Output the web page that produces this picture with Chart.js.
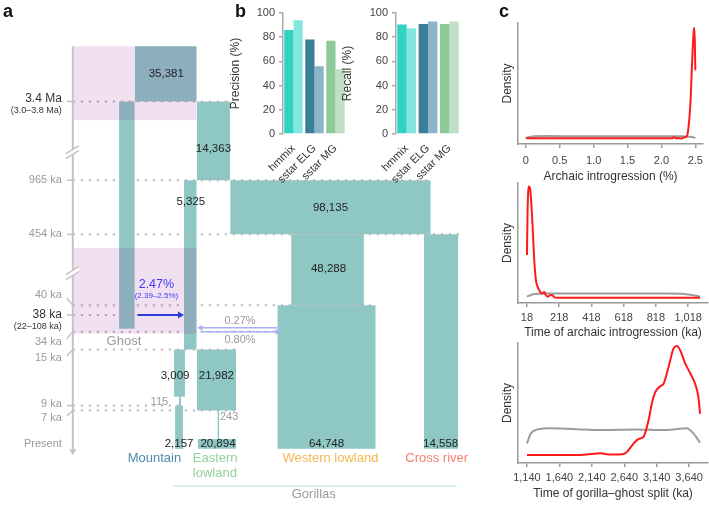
<!DOCTYPE html>
<html><head><meta charset="utf-8">
<script src="https://cdn.jsdelivr.net/npm/chart.js@4/dist/chart.umd.min.js"></script>
<style>
html,body{margin:0;padding:0;background:#fff;width:709px;height:506px;overflow:hidden;font-family:'Liberation Sans',Arial,sans-serif}
.p{position:absolute}
.lbl{position:absolute;font-weight:bold;font-size:18px;color:#111;line-height:18px}
</style></head><body>
<div class="p" style="left:0;top:0;width:480px;height:506px"><canvas id="cA" width="480" height="506"></canvas></div>
<div class="p" style="left:228px;top:0;width:120px;height:196px"><canvas id="cPrec" width="120" height="196"></canvas></div>
<div class="p" style="left:340px;top:0;width:128px;height:196px"><canvas id="cRec" width="128" height="196"></canvas></div>
<div class="p" style="left:500px;top:12px;width:209px;height:172px"><canvas id="c1" width="209" height="172"></canvas></div>
<div class="p" style="left:500px;top:172px;width:209px;height:168px"><canvas id="c2" width="209" height="168"></canvas></div>
<div class="p" style="left:500px;top:332px;width:209px;height:169px"><canvas id="c3" width="209" height="169"></canvas></div>
<div class="lbl" style="left:3px;top:2px">a</div>
<div class="lbl" style="left:235px;top:2px">b</div>
<div class="lbl" style="left:499px;top:2px">c</div>
<script>
// ===== Panel a: demographic model (schematic units) =====
const timeLabels = ['3.4 Ma','965 ka','454 ka','40 ka','38 ka','34 ka','15 ka','9 ka','7 ka','Present'];
const timeSub    = ['(3.0–3.8 Ma)','','','','(22–108 ka)','','','','',''];
const timePos    = [88.25, 68.25, 54.5, 36.5, 34, 29.75, 25.25, 11, 9.75, 0];
const timeLabelShift = [0.75, 0, 0, 2.5, 0, -2.5, -2.25, 0.5, -2, 1.25];
const timeMark   = ['tick','tick','tick','slant','tick','slant','slant','tick','slant','none'];
const timeDark   = [true,false,false,false,true,false,false,false,false,false];
const guideEnd   = [40, 91, 98.25, 77, 31.75, 52, 41.5, 28, 41.5, null];
const axisBreaks = [75.5, 44.75];

const popSizes  = [35381, 14363, 5325, 98135, 48288, 64748, 14558, 3009, 2157, 21982, 20894];
const boxLeft   = [15.75, 31.5, 28.25, 40, 55.5, 52, 89.25, 25.75, 26, 31.5, 31.75];
const boxRight  = [31.5, 40, 31.5, 91, 74, 77, 98, 28.5, 28, 41.5, 41.5];
const boxTop    = [102.25, 88.25, 68.25, 68.25, 54.5, 36.5, 54.5, 25.25, 11, 25.25, 2.5];
const boxBottom = [88.25, 68.25, 25.25, 54.5, 36.5, 0, 0, 13.25, 0, 9.75, 0];
const popLabelX = [23.75, 35.75, 30, 65.5, 65, 64.5, 93.5, 26, 27, 36.5, 36.9];
const popLabelY = [95.25, 76.25, 62.75, 61.25, 45.75, 1.25, 1.25, 18.5, 1.25, 18.5, 1.25];

const ghostBox = [11.75, 15.75, 88.25, 30.5]; // left,right,top,bottom
const bottleneckSizes = [115, 243];
const bnLeft = [27, 36.75], bnRight = [27.5, 37.25], bnTop = [13.25, 9.75], bnBottom = [11, 2.5];
const bnLabelX = [22, 39.75], bnLabelY = [12, 8];

const ciLeft = [0.25, 0.25], ciRight = [31.5, 31.5], ciTop = [102.25, 51], ciBottom = [83.5, 29.25];

const migRates = ['2.47%', '0.27%', '0.80%'];
const migCI = '(2.39–2.5%)';
const migFrom = [16.5, 52, 32.5], migTo = [27.25, 32.5, 52], migY = [34, 30.75, 29.75];

const popNames = ['Mountain','Eastern','lowland','Western lowland','Cross river'];
const popNameColors = ['#4f8bab','#93d09c','#93d09c','#f5b752','#f2806e'];
const popNameX = [20.75, 30.5, 30.5, 65.5, 92.5], popNameY = [-2.5, -2.5, -6.25, -2.5, -2.5];
const popNameAlign = ['center','left','left','center','center'];

const TEAL = 'rgb(143,199,197)';
const PINK = 'rgba(130,0,130,0.12)';
const GUIDE = '#b5b5b5';
const fmt = v => v.toLocaleString('en-US');

const dsA = [];
function rect(l, r, t, b, color, order) {
  dsA.push({data:[{x:l,y:t},{x:r,y:t}], fill:{value:b}, backgroundColor:color,
    borderColor:'rgba(0,0,0,0)', borderWidth:0, pointRadius:0, order:order});
}
for (let i = 0; i < popSizes.length; i++) rect(boxLeft[i], boxRight[i], boxTop[i], boxBottom[i], TEAL, 5);
rect(ghostBox[0], ghostBox[1], ghostBox[2], ghostBox[3], TEAL, 5);
for (let i = 0; i < bottleneckSizes.length; i++) rect(bnLeft[i], bnRight[i], bnTop[i], bnBottom[i], TEAL, 5);
for (let i = 0; i < ciLeft.length; i++) rect(ciLeft[i], ciRight[i], ciTop[i], ciBottom[i], PINK, 1);
for (let i = 0; i < timePos.length; i++) {
  if (guideEnd[i] === null) continue;
  dsA.push({data:[{x:0,y:timePos[i]},{x:guideEnd[i],y:timePos[i]}], borderColor:GUIDE, borderWidth:2,
    borderDash:[2,6], pointRadius:0, fill:false, order:2});
}
// time axis with arrow
dsA.push({data:[{x:0,y:102.25},{x:0,y:-0.6}], borderColor:'#c4c4c4', borderWidth:2, fill:false, order:0,
  pointRadius:[0,4], pointStyle:'triangle', pointRotation:180, pointBackgroundColor:'#c4c4c4', pointBorderWidth:0});
// migration arrows
const migColors = ['#2d3ddb','#a9b0f2','#a9b0f2'];
for (let i = 0; i < migFrom.length; i++) {
  dsA.push({data:[{x:migFrom[i],y:migY[i]},{x:migTo[i],y:migY[i]}], borderColor:migColors[i],
    borderWidth: i === 0 ? 2 : 1.5, fill:false, order:0, pointRadius:[0, i===0?4:3.5], pointStyle:'triangle',
    pointRotation: migTo[i] > migFrom[i] ? 90 : 270, pointBackgroundColor:migColors[i], pointBorderWidth:0});
}
// Gorillas bracket line
dsA.push({data:[{x:25.5,y:-9.5},{x:97.5,y:-9.5}], borderColor:'#cdebe6', borderWidth:1.5, pointRadius:0, fill:false, order:0});

const diagramText = {
  id:'diagramText',
  afterDatasetsDraw(chart) {
    const {ctx} = chart; const X = chart.scales.x, Y = chart.scales.y;
    const px = v => X.getPixelForValue(v), py = v => Y.getPixelForValue(v);
    const FF = "'Liberation Sans', Arial, sans-serif";
    const txt = (t, x, y, color, size, align) => {
      ctx.font = size + 'px ' + FF; ctx.fillStyle = color; ctx.textAlign = align || 'center';
      ctx.textBaseline = 'middle'; ctx.fillText(t, x, y);
    };
    ctx.save();
    const ax = px(0);
    ctx.strokeStyle = '#c4c4c4'; ctx.lineWidth = 1.5;
    for (let i = 0; i < timeLabels.length; i++) {
      const lineY = py(timePos[i]); const labY = py(timePos[i] + timeLabelShift[i]);
      ctx.beginPath();
      if (timeMark[i] === 'tick') { ctx.moveTo(ax - 6, lineY); ctx.lineTo(ax, lineY); ctx.stroke(); }
      else if (timeMark[i] === 'slant') { ctx.moveTo(ax - 6, labY + (lineY - labY) * 0.3); ctx.lineTo(ax, lineY); ctx.stroke(); }
      txt(timeLabels[i], ax - 11, labY, timeDark[i] ? '#333' : '#9a9a9a', timeDark[i] ? 12 : 11, 'right');
      if (timeSub[i]) txt(timeSub[i], ax - 11, labY + 12, '#333', 9, 'right');
    }
    // axis breaks
    for (const b of axisBreaks) {
      const yb = py(b);
      ctx.fillStyle = '#fff';
      ctx.beginPath(); ctx.moveTo(ax-7, yb+2); ctx.lineTo(ax+6, yb-6); ctx.lineTo(ax+6, yb-1); ctx.lineTo(ax-7, yb+7); ctx.closePath(); ctx.fill();
      ctx.strokeStyle = '#c4c4c4'; ctx.lineWidth = 1.5;
      for (const d of [-1.5, 3.5]) { ctx.beginPath(); ctx.moveTo(ax - 7, yb + 3.5 + d); ctx.lineTo(ax + 6, yb - 4.5 + d); ctx.stroke(); }
    }
    for (let i = 0; i < popSizes.length; i++) txt(fmt(popSizes[i]), px(popLabelX[i]), py(popLabelY[i]), '#222', 11.5);
    for (let i = 0; i < bottleneckSizes.length; i++) txt(fmt(bottleneckSizes[i]), px(bnLabelX[i]), py(bnLabelY[i]), '#9a9a9a', 11);
    txt('Ghost', px(13), py(27.25), '#9a9a9a', 13);
    txt(migRates[0], px(21.25), py(41.75), '#3b3bf5', 12.5);
    txt(migCI, px(21.25), py(39), '#3b3bf5', 8);
    txt(migRates[1], px(42.5), py(32.6), '#9a9a9a', 11);
    txt(migRates[2], px(42.5), py(27.7), '#9a9a9a', 11);
    for (let i = 0; i < popNames.length; i++) txt(popNames[i], px(popNameX[i]), py(popNameY[i]), popNameColors[i], 13, popNameAlign[i]);
    txt('Gorillas', px(61.25), py(-11.5), '#9a9a9a', 13);
    ctx.restore();
  }
};

Chart.defaults.font.family = "'Liberation Sans', Arial, sans-serif";
Chart.defaults.color = '#333';

new Chart(document.getElementById('cA'), {
  type:'line', data:{datasets:dsA},
  options:{responsive:false, animation:false, devicePixelRatio:1, layout:{padding:0},
    plugins:{legend:{display:false}, tooltip:{enabled:false}},
    scales:{x:{type:'linear', min:-17.5, max:102.5, display:false}, y:{type:'linear', min:-13.5, max:113, display:false}}},
  plugins:[diagramText]
});

// ===== Panel b: precision & recall =====
const methods = ['hmmix','sstar ELG','sstar MG'];
const precisionFirst = [86, 78, 77], precisionSecond = [94, 56, 53.5];
const recallFirst = [90.5, 91, 91], recallSecond = [87.5, 93, 93];
const colorFirst = ['#2ed3c4','#3b7e98','#8dca9a'];
const colorSecond = ['#84e7df','#8ab4c7','#bfe0c5'];

function barChart(id, a, b, title, yW, padR) {
  new Chart(document.getElementById(id), {
    type:'bar',
    data:{labels:methods, datasets:[{data:a, backgroundColor:colorFirst},{data:b, backgroundColor:colorSecond}]},
    options:{responsive:false, animation:false, devicePixelRatio:1,
      layout:{padding:{top:13, right:padR, left:0, bottom:0}},
      plugins:{legend:{display:false}, tooltip:{enabled:false}},
      datasets:{bar:{barPercentage:1, categoryPercentage:0.88}},
      scales:{
        x:{grid:{display:false}, border:{display:false},
           ticks:{autoSkip:false, maxRotation:45, minRotation:45, font:{size:11}, color:'#333', padding:0},
           afterFit:s=>{s.height=62;}},
        y:{min:0, max:100, ticks:{stepSize:20, font:{size:11}, color:'#444', padding:4},
           grid:{drawOnChartArea:false, tickLength:4, color:'#aaa', lineWidth:1.5}, border:{color:'#aaa', width:1.5},
           title:{display:true, text:title, font:{size:12}, color:'#333', padding:{top:0,bottom:2}},
           afterFit:s=>{s.width=yW;}}
      }}
  });
}
barChart('cPrec', precisionFirst, precisionSecond, 'Precision (%)', 55, 2);
barChart('cRec', recallFirst, recallSecond, 'Recall (%)', 56, 8);

// ===== Panel c: posterior densities =====
const c1Ticks = [0, 0.5, 1.0, 1.5, 2.0, 2.5];
const c1TickLabels = ['0','0.5','1.0','1.5','2.0','2.5'];
const c1RedX = [0, 0.5, 1.0, 1.5, 2.0, 2.15, 2.2, 2.22, 2.25, 2.3, 2.33, 2.37, 2.40, 2.43, 2.45, 2.475, 2.486, 2.495, 2.5];
const c1RedY = [0.047, 0.047, 0.047, 0.047, 0.047, 0.047, 0.056, 0.046, 0.05, 0.045, 0.055, 0.06, 0.14, 0.36, 0.64, 0.92, 0.96, 0.78, 0.61];
const c1GrayX = [0, 0.1, 0.3, 0.8, 1.5, 2.0, 2.3, 2.45, 2.5];
const c1GrayY = [0.05, 0.062, 0.066, 0.064, 0.064, 0.064, 0.064, 0.058, 0.05];

const c2Ticks = [18, 218, 418, 618, 818, 1018];
const c2TickLabels = ['18','218','418','618','818','1,018'];
const c2RedX = [18, 22, 30, 38.6, 53, 63, 73.5, 84, 94, 104, 115, 125, 135, 146, 156, 166, 177, 187, 207, 400, 700, 1092];
const c2RedY = [0.40, 0.775, 0.97, 0.94, 0.64, 0.36, 0.19, 0.136, 0.108, 0.086, 0.08, 0.092, 0.067, 0.053, 0.06, 0.067, 0.064, 0.047, 0.044, 0.044, 0.044, 0.044];
const c2GrayX = [18, 63, 125, 300, 600, 900, 980, 1043, 1092];
const c2GrayY = [0.053, 0.075, 0.08, 0.08, 0.08, 0.08, 0.078, 0.067, 0.053];

const c3Ticks = [1140, 1640, 2140, 2640, 3140, 3640];
const c3TickLabels = ['1,140','1,640','2,140','2,640','3,140','3,640'];
const c3RedX = [1140, 1508, 1918, 2122, 2275, 2428, 2608, 2684, 2786, 2862, 2939, 3016, 3067, 3118, 3195, 3246, 3323, 3400, 3451, 3502, 3579, 3655, 3732, 3783, 3809];
const c3RedY = [0.067, 0.067, 0.067, 0.075, 0.081, 0.07, 0.072, 0.094, 0.164, 0.2, 0.22, 0.36, 0.5, 0.59, 0.64, 0.66, 0.8, 0.955, 0.975, 0.94, 0.83, 0.75, 0.66, 0.55, 0.41];
const c3GrayX = [1140, 1201, 1304, 1508, 2019, 2275, 2786, 3297, 3604, 3706, 3809];
const c3GrayY = [0.164, 0.247, 0.28, 0.29, 0.28, 0.275, 0.28, 0.275, 0.29, 0.247, 0.17];

const pts = (xs, ys) => xs.map((x, i) => ({x, y: ys[i]}));
function densityChart(id, xmin, xmax, ticks, tickLabels, title, red, gray, xH, tickPad) {
  new Chart(document.getElementById(id), {
    type:'line',
    data:{datasets:[
      {data:red, borderColor:'#ff1a1a', borderWidth:2, pointRadius:0, fill:false, cubicInterpolationMode:'monotone'},
      {data:gray, borderColor:'#9c9c9c', borderWidth:2, pointRadius:0, fill:false, cubicInterpolationMode:'monotone'}]},
    options:{responsive:false, animation:false, devicePixelRatio:1,
      layout:{padding:{top:11, right:1, left:0, bottom:0}},
      plugins:{legend:{display:false}, tooltip:{enabled:false}},
      scales:{
        x:{type:'linear', min:xmin, max:xmax,
           afterBuildTicks:s=>{s.ticks = ticks.map(v=>({value:v}));},
           ticks:{autoSkip:false, maxRotation:0, font:{size:11}, color:'#444', padding:tickPad,
                  callback:(v,i)=>tickLabels[i]},
           grid:{drawOnChartArea:false, tickLength:4, color:'#999', lineWidth:1.5},
           border:{color:'#999', width:1.5},
           title:{display:true, text:title, font:{size:12}, color:'#333', padding:{top:1,bottom:0}},
           afterFit:s=>{s.height=xH;}},
        y:{min:0, max:1, ticks:{display:false}, grid:{drawOnChartArea:false, drawTicks:false},
           border:{color:'#999', width:1.5},
           title:{display:true, text:'Density', font:{size:12}, color:'#333', padding:0},
           afterFit:s=>{s.width=18;}}
      }}
  });
}
densityChart('c1', -0.115, 2.615, c1Ticks, c1TickLabels, 'Archaic introgression (%)', pts(c1RedX, c1RedY), pts(c1GrayX, c1GrayY), 40, 6);
densityChart('c2', -37.6, 1141, c2Ticks, c2TickLabels, 'Time of archaic introgression (ka)', pts(c2RedX, c2RedY), pts(c2GrayX, c2GrayY), 37, 4);
densityChart('c3', 1002, 3931, c3Ticks, c3TickLabels, 'Time of gorilla–ghost split (ka)', pts(c3RedX, c3RedY), pts(c3GrayX, c3GrayY), 38, 4);
</script>
</body></html>
